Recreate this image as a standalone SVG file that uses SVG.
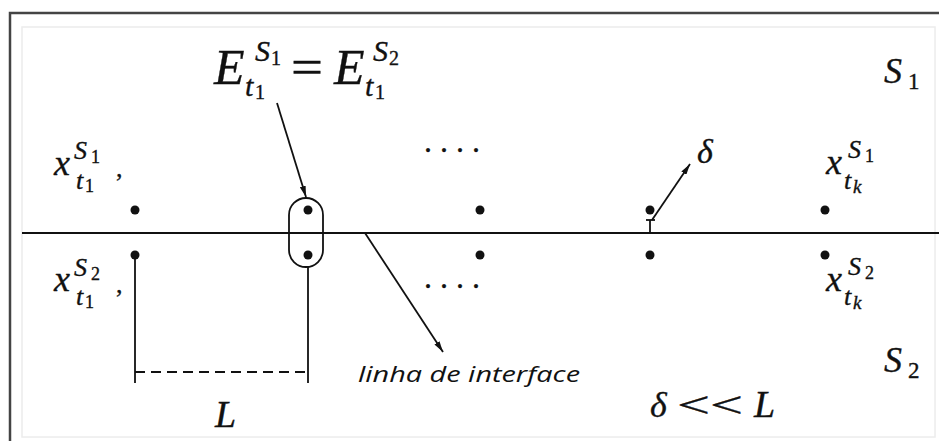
<svg xmlns="http://www.w3.org/2000/svg" width="939" height="441" viewBox="0 0 939 441">
<defs>
<marker id="ah" viewBox="0 0 11 6" refX="11" refY="3" markerWidth="11" markerHeight="6" markerUnits="userSpaceOnUse" orient="auto">
<path d="M0,0 L11,3 L0,6 Z" fill="#111"/>
</marker>
<style>
.m{font-family:"Liberation Serif","Times New Roman",serif;font-style:italic;fill:#111;stroke:#111;stroke-width:0.35}
.u{font-family:"Liberation Serif","Times New Roman",serif;font-style:normal;fill:#111;stroke:#111;stroke-width:0.35}
.ln{stroke:#111;stroke-width:1.8;fill:none}
.dot{fill:#111}
.lab{font-family:"Open Sans","DejaVu Sans",sans-serif;font-style:italic;fill:#111}
</style>
</defs>
<rect width="939" height="441" fill="#ffffff"/>
<rect x="22" y="27" width="913" height="410" fill="none" stroke="#ececec" stroke-width="1.5"/>
<path d="M10,441 L10,13 L939,13" fill="none" stroke="#444" stroke-width="2.5"/>

<g id="interface">
<line class="ln" x1="22" y1="233" x2="939" y2="233"/>
</g>

<g id="dots">
<circle class="dot" cx="135" cy="210" r="4.5"/>
<circle class="dot" cx="308" cy="210" r="4.5"/>
<circle class="dot" cx="480" cy="210" r="4.5"/>
<circle class="dot" cx="650" cy="210" r="4.5"/>
<circle class="dot" cx="825" cy="210" r="4.5"/>
<circle class="dot" cx="135" cy="255" r="4.5"/>
<circle class="dot" cx="308" cy="255" r="4.5"/>
<circle class="dot" cx="480" cy="255" r="4.5"/>
<circle class="dot" cx="650" cy="255" r="4.5"/>
<circle class="dot" cx="825" cy="255" r="4.5"/>
</g>

<g id="capsule">
<rect class="ln" x="289" y="198" width="34" height="69" rx="17" ry="17"/>
</g>

<g id="connectors">
<line class="ln" x1="135" y1="255" x2="135" y2="383"/>
<line class="ln" x1="308" y1="267" x2="308" y2="383"/>
<line class="ln" x1="135" y1="372" x2="308" y2="372" stroke-dasharray="10,6"/>
<line class="ln" x1="277" y1="103" x2="306" y2="197" marker-end="url(#ah)" stroke-width="1.4"/>
<line class="ln" x1="365" y1="233" x2="443" y2="352" marker-end="url(#ah)" stroke-width="1.4"/>
<line class="ln" x1="652" y1="220" x2="690" y2="164" marker-end="url(#ah)" stroke-width="1.4"/>
<line class="ln" x1="646" y1="220" x2="655" y2="220" stroke-width="1.4"/>
<line class="ln" x1="650" y1="220" x2="650" y2="233" stroke-width="1.4"/>
</g>

<g id="eq">
<text class="m" x="214" y="84" font-size="50">E</text>
<text class="m" x="255" y="61" font-size="30">S</text>
<text class="u" x="271" y="65" font-size="20">1</text>
<text class="m" x="245" y="96" font-size="30">t</text>
<text class="u" x="255" y="99" font-size="20">1</text>
<text class="u" x="291" y="84" font-size="50" textLength="32" lengthAdjust="spacingAndGlyphs">=</text>
<text class="m" x="334" y="84" font-size="50">E</text>
<text class="m" x="373" y="61" font-size="30">S</text>
<text class="u" x="389" y="65" font-size="20">2</text>
<text class="m" x="365" y="96" font-size="30">t</text>
<text class="u" x="375" y="99" font-size="20">1</text>
</g>

<g id="x1s1">
<text class="m" x="54" y="175" font-size="36">x</text>
<text class="m" x="74" y="159" font-size="26">S</text>
<text class="u" x="91" y="163" font-size="18">1</text>
<text class="m" x="76" y="189" font-size="26">t</text>
<text class="u" x="85" y="192" font-size="18">1</text>
<text class="u" x="116" y="177" font-size="26">,</text>
</g>

<g id="x1s2">
<text class="m" x="54" y="291" font-size="36">x</text>
<text class="m" x="74" y="276" font-size="26">S</text>
<text class="u" x="91" y="280" font-size="18">2</text>
<text class="m" x="76" y="305" font-size="26">t</text>
<text class="u" x="85" y="308" font-size="18">1</text>
<text class="u" x="116" y="293" font-size="26">,</text>
</g>

<g id="xks1">
<text class="m" x="826" y="174" font-size="36">x</text>
<text class="m" x="848" y="158" font-size="26">S</text>
<text class="u" x="865" y="162" font-size="18">1</text>
<text class="m" x="844" y="189" font-size="26">t</text>
<text class="m" x="853" y="193" font-size="19">k</text>
</g>

<g id="xks2">
<text class="m" x="826" y="291" font-size="36">x</text>
<text class="m" x="848" y="275" font-size="26">S</text>
<text class="u" x="865" y="279" font-size="18">2</text>
<text class="m" x="844" y="305" font-size="26">t</text>
<text class="m" x="853" y="309" font-size="19">k</text>
</g>

<g id="ellipsis-top">
<text class="u" x="424" y="152" font-size="32" letter-spacing="8">....</text>
</g>
<g id="ellipsis-bottom">
<text class="u" x="424" y="288" font-size="32" letter-spacing="8">....</text>
</g>

<g id="delta">
<text class="m" x="697" y="163" font-size="34">δ</text>
</g>

<g id="S1">
<text class="m" x="884" y="83" font-size="36">S</text>
<text class="u" x="908" y="89" font-size="23">1</text>
</g>
<g id="S2">
<text class="m" x="884" y="372" font-size="36">S</text>
<text class="u" x="908" y="378" font-size="23">2</text>
</g>

<g id="Llabel">
<text class="m" x="215" y="427" font-size="38">L</text>
</g>

<g id="rel">
<text class="m" x="650" y="417" font-size="36">δ</text>
<text class="u" x="677" y="417" font-size="36" textLength="66" lengthAdjust="spacingAndGlyphs">&lt;&lt;</text>
<text class="m" x="754" y="417" font-size="38">L</text>
</g>

<g id="linha">
<text class="lab" x="358" y="382" font-size="21" textLength="222" lengthAdjust="spacingAndGlyphs">linha de interface</text>
</g>
</svg>
